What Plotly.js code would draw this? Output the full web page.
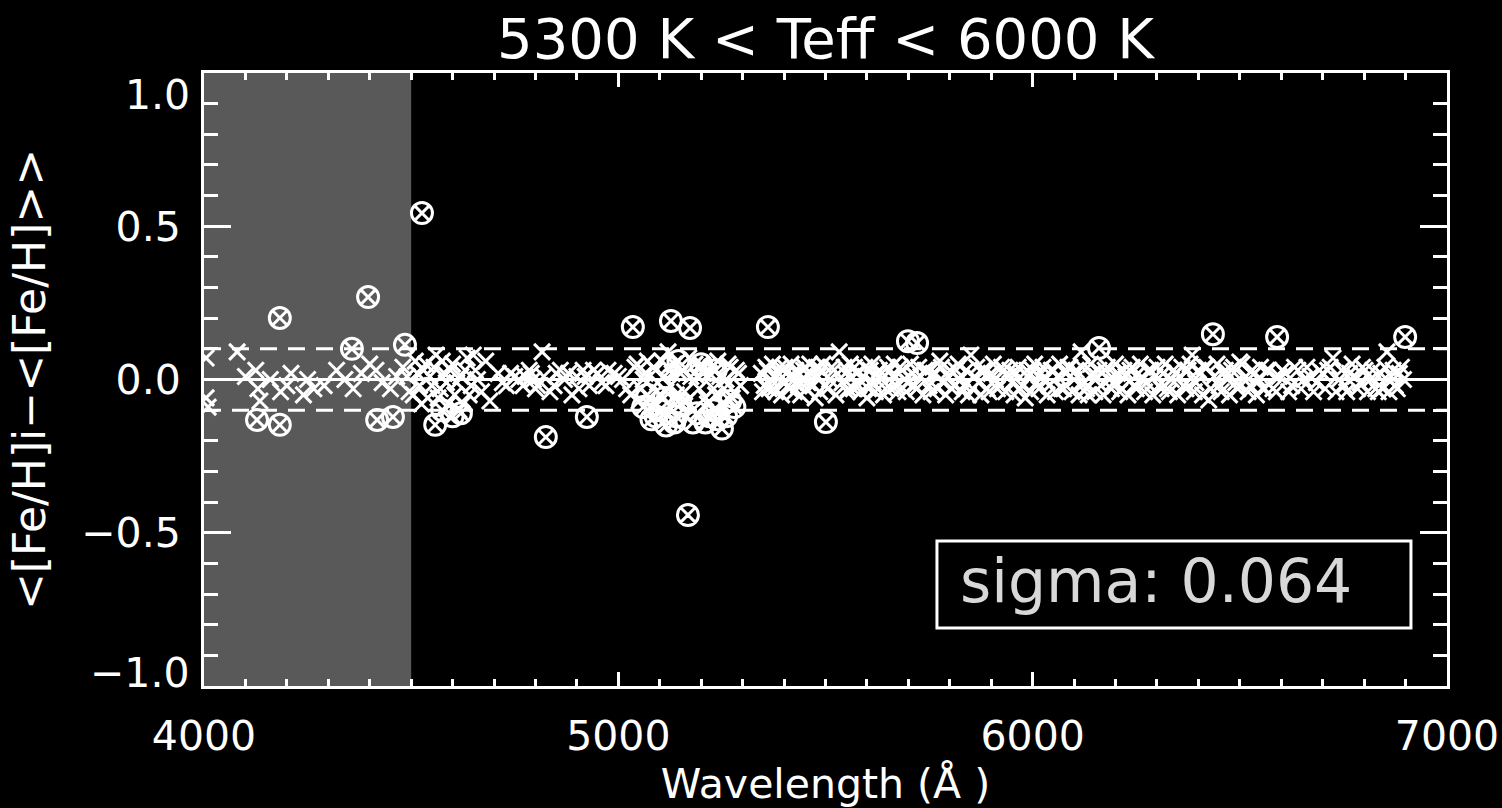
<!DOCTYPE html>
<html>
<head>
<meta charset="utf-8">
<script src="https://cdn.plot.ly/plotly-3.0.1.min.js"></script>
<style>html,body{margin:0;padding:0;background:#000;}#chart{width:1502px;height:808px;}</style>
</head>
<body>
<div id="chart"></div>
<script>
// ---- data ----
const titleText = "5300 K &lt; Teff &lt; 6000 K";
const xTitle = "Wavelength (Å )";
const yTitle = "&lt;[Fe/H]i−&lt;[Fe/H]&gt;&gt;";
const xRange = [4000, 7000];
const yRange = [-1, 1];
const xTickVals = [4000, 5000, 6000, 7000];
const xTickText = ["4000", "5000", "6000", "7000"];
const yTickVals = [-1, -0.5, 0, 0.5, 1];
const yTickText = ["−1.0", "−0.5", "0.0", "0.5", "1.0"];
const shadedBand = [4000, 4500];
const meanLine = 0;
const limitLines = [0.1, -0.1];
const sigmaLabel = "sigma: 0.064";
const sigmaBox = {x: [5769, 6913], y: [-0.527, -0.811]};

// lines kept in the mean (x markers)
const keptWave = [
 4005,4005,4010,4080,4100,4125,4130,4135,4160,4185,4200,4210,4240,4250,4265,4290,4320,4340,4360,4380,4400,4415,4430,4450,4465,4480,4490,4495,
 4510,4520,4530,4540,4545,4560,4570,4580,4590,4600,4610,4615,4630,4640,4650,4660,4680,4690,4720,4740,4760,4775,4790,4800,4816,4820,4835,4850,4870,4888,4900,4915,4930,4950,4960,4975,5000,5020,5040,5050,5060,5070,5080,5090,5100,5110,5120,5125,5135,5145,5150,5160,5170,5180,5190,5200,5210,5220,5230,5240,5250,5260,5270,5280,5290,
 4505,4515,4525,4535,4550,4555,4565,4575,4585,4595,4605,4620,4625,4635,4645,4655,4670,4710,4730,4750,4770,4785,4795,4805,4845,4860,4880,4905,4920,4940,4970,4990,5010,5030,5045,5055,5065,5075,5085,5095,5105,5115,5130,5140,5155,5165,5175,5185,5195,5205,5215,5225,5235,5245,5255,5265,5275,5285,5295,
 5345,5352,5360,5368,5375,5383,5390,5398,5405,5413,5420,5428,5435,5443,5450,5458,5465,5475,5482,5490,5500,5510,5520,5533,5540,5548,5555,5563,5570,5580,5590,5600,5608,5615,5625,5635,5645,5655,5662,5670,5680,5690,5700,5710,5720,5730,5740,5750,5760,5776,5785,5795,5805,5815,5825,5835,5851,5860,5870,5880,5890,5900,5910,5920,5930,5940,5950,5960,5970,5982,5990,6000,6010,6020,6030,6040,6050,6060,6070,6080,6090,6100,6117,6125,6134,6145,6155,6165,6175,6185,6195,6205,6215,6225,6235,6245,6255,6265,6275,6285,6295,6305,6315,6325,6335,6345,6355,6365,6375,6385,6394,6405,6415,6425,6438,6450,6460,6470,6480,6490,6500,6515,6525,6535,6545,6555,6565,6580,6595,6610,6625,6640,6655,6670,6685,6700,6712,6725,6740,6752,6765,6778,6790,6802,6815,6828,6840,6845,6855,6865,6875,6885,6895,
 5348,5356,5364,5372,5380,5387,5394,5402,5410,5417,5425,5432,5440,5447,5455,5462,5470,5478,5486,5494,5505,5515,5525,5545,5552,5560,5567,5575,5585,5595,5604,5612,5620,5630,5640,5650,5658,5666,5675,5685,5695,5705,5715,5725,5735,5745,5755,5765,5770,5780,5790,5800,5810,5820,5830,5840,5845,5855,5865,5875,5885,5895,5905,5915,5925,5935,5945,5955,5965,5975,5986,5995,6005,6015,6025,6035,6045,6055,6065,6075,6085,6095,6105,6112,6120,6130,6140,6150,6160,6170,6180,6190,6200,6210,6220,6230,6240,6250,6260,6270,6280,6290,6300,6310,6320,6330,6340,6350,6360,6370,6380,6390,6400,6410,6420,6430,6445,6455,6465,6475,6485,6495,6505,6520,6530,6540,6550,6560,6570,6588,6602,6618,6632,6648,6662,6678,6692,6706,6718,6732,6746,6758,6771,6784,6796,6808,6821,6834,6850,6860,6870,6880,6890
];
const keptDelta = [
 0.07,-0.06,-0.09,0.09,0.01,0.03,-0.03,-0.07,0.00,-0.04,-0.02,0.02,-0.05,0.00,-0.03,-0.02,0.03,0.00,-0.03,0.02,0.05,0.03,-0.01,-0.03,0.01,0.04,0.01,-0.04,
 0.06,-0.02,0.03,-0.06,0.01,0.08,-0.03,0.02,-0.08,0.05,-0.01,-0.10,0.03,-0.05,0.08,0.00,0.06,-0.07,-0.01,0.02,0.00,0.01,0.02,-0.03,0.09,0.01,-0.04,0.02,0.00,-0.05,0.01,0.03,-0.02,0.02,-0.01,0.03,0.01,-0.03,0.04,-0.07,0.00,0.06,-0.09,0.03,-0.05,0.01,0.09,-0.02,0.05,-0.07,0.02,-0.04,0.07,-0.10,0.01,0.04,-0.06,0.02,-0.03,0.06,-0.08,0.00,0.04,-0.04,0.02,
 -0.05,0.02,-0.08,0.05,-0.02,0.04,-0.06,0.06,-0.01,0.03,-0.05,0.01,-0.08,0.07,-0.02,0.03,-0.04,0.02,-0.02,0.01,-0.02,0.03,0.00,-0.02,-0.02,0.03,0.02,-0.03,0.01,0.03,-0.02,0.02,0.00,-0.05,0.05,-0.03,0.02,-0.06,0.04,-0.01,0.06,-0.04,0.02,-0.05,0.03,-0.07,0.01,0.05,-0.03,0.02,-0.08,0.04,-0.05,0.01,-0.03,0.05,-0.06,0.03,-0.02,
 0.02,-0.02,0.03,0.00,-0.03,0.01,0.04,-0.01,0.02,-0.03,0.01,0.03,-0.02,0.00,0.04,-0.01,0.02,-0.06,0.01,0.03,-0.02,0.00,0.03,0.09,-0.01,0.02,-0.03,0.01,0.04,-0.02,0.01,-0.06,0.03,-0.01,0.02,0.00,-0.03,0.03,0.01,-0.02,0.04,0.00,-0.01,0.02,-0.03,0.01,0.03,-0.02,0.02,0.06,-0.01,0.01,-0.03,0.03,0.00,-0.02,0.08,0.01,-0.01,0.03,-0.03,0.02,0.00,-0.02,0.03,0.01,-0.01,0.02,-0.03,-0.06,0.01,0.03,-0.01,0.02,0.00,-0.02,0.03,0.01,-0.03,0.02,0.04,0.00,0.09,-0.01,-0.05,0.02,0.01,-0.02,0.03,0.00,-0.01,0.02,-0.03,0.01,0.03,-0.02,0.02,0.00,-0.01,0.03,0.01,-0.02,0.02,-0.03,0.00,0.02,0.01,-0.02,0.03,0.08,-0.01,0.02,0.04,-0.067,0.01,-0.02,0.02,0.00,0.03,-0.01,0.057,0.01,-0.02,0.02,0.00,-0.03,0.03,-0.03,0.01,0.02,-0.02,0.03,0.00,0.01,-0.01,0.02,0.03,0.07,0.00,-0.02,0.02,0.01,-0.01,0.03,0.00,-0.03,0.02,-0.03,0.09,0.01,-0.02,0.02,0.00,
 -0.04,0.04,-0.03,0.05,-0.04,0.02,-0.05,0.04,-0.02,0.05,-0.04,0.02,-0.05,0.03,-0.03,0.05,-0.02,0.04,-0.04,0.05,-0.03,0.04,-0.05,0.04,-0.04,0.05,-0.03,0.02,-0.04,0.04,-0.03,0.05,-0.04,0.03,-0.05,0.04,-0.03,0.05,-0.04,0.03,-0.04,0.05,-0.02,0.04,-0.05,0.03,-0.04,0.02,-0.03,0.04,-0.05,0.03,-0.02,0.05,-0.04,0.03,-0.05,-0.03,0.04,-0.05,0.03,-0.04,0.05,-0.03,0.04,-0.04,0.03,-0.05,0.04,-0.02,0.03,-0.04,0.05,-0.03,0.04,-0.05,0.03,-0.04,0.05,-0.03,0.04,-0.04,0.03,-0.05,0.04,-0.03,0.05,-0.04,0.03,-0.05,0.04,-0.03,0.05,-0.04,0.03,-0.05,0.04,-0.03,0.05,-0.04,0.03,-0.05,0.04,-0.03,0.05,-0.04,0.03,-0.05,0.04,-0.03,0.05,-0.04,0.03,-0.05,0.04,-0.03,0.05,-0.04,0.03,-0.05,0.04,-0.03,0.05,-0.04,0.03,-0.05,0.04,-0.03,0.03,-0.04,0.03,-0.04,0.04,-0.03,0.04,-0.04,0.03,-0.03,0.04,-0.04,0.03,-0.04,0.05,-0.03,0.04,-0.04,0.03,-0.04,0.04,-0.04,0.03,-0.03,0.04
];

// rejected lines (circled x markers)
const rejWave = [
 4526,4396,4183,4357,4485,4128,4183,4418,4456,4558,4600,4575,4620,
 5035,5127,5173,5361,4825,4924,5168,5501,5699,5721,6160,6435,6590,6899,
 5080,5100,5115,5140,5150,5190,5210,5230,5250,5260,5280,5070,5120,5200,5060,5090,5110,5135,5180,5220,5240,5270,5145,5235
];
const rejDelta = [
 0.543,0.269,0.201,0.100,0.113,-0.132,-0.148,-0.132,-0.122,-0.148,-0.12,-0.10,-0.11,
 0.171,0.191,0.168,0.171,-0.188,-0.122,-0.442,-0.139,0.125,0.119,0.103,0.148,0.139,0.139,
 -0.13,-0.10,-0.15,-0.12,-0.08,-0.11,-0.14,-0.10,-0.16,-0.12,-0.09,-0.05,0.04,0.05,-0.09,-0.12,-0.06,-0.14,-0.14,-0.12,-0.13,-0.07,0.06,0.03
];

const FONT = "DejaVu Sans, sans-serif";
const W = "#ffffff";

const traces = [
 {x: keptWave, y: keptDelta, type: "scatter", mode: "markers", hoverinfo: "skip",
  marker: {symbol: "x-thin-open", size: 16, color: W, line: {color: W, width: 3}}},
 {x: rejWave, y: rejDelta, type: "scatter", mode: "markers", hoverinfo: "skip",
  marker: {symbol: "circle-x-open", size: 21, color: W, line: {color: W, width: 3}}}
];

const shapes = [
 {type: "rect", xref: "x", yref: "y", x0: shadedBand[0], x1: shadedBand[1], y0: yRange[0], y1: yRange[1],
  fillcolor: "#595959", line: {width: 0}, layer: "below"},
 {type: "line", xref: "x", yref: "y", x0: xRange[0], x1: xRange[1], y0: meanLine, y1: meanLine,
  line: {color: W, width: 3}, layer: "above"}
];
limitLines.forEach(v => shapes.push({type: "line", xref: "x", yref: "y", x0: xRange[0], x1: xRange[1], y0: v, y1: v,
  line: {color: W, width: 3, dash: "17px,11px"}, layer: "above"}));
shapes.push({type: "rect", xref: "x", yref: "y", x0: sigmaBox.x[0], x1: sigmaBox.x[1], y0: sigmaBox.y[0], y1: sigmaBox.y[1],
  line: {color: W, width: 3}, fillcolor: "rgba(0,0,0,0)", layer: "above"});

const annotations = [
 {xref: "x", yref: "y", x: (sigmaBox.x[0] + sigmaBox.x[1]) / 2, y: (sigmaBox.y[0] + sigmaBox.y[1]) / 2,
  text: sigmaLabel, showarrow: false, font: {family: FONT, size: 60, color: "#d8d8d8"}, xanchor: "center", yanchor: "middle", xshift: -18, yshift: 4},
 {xref: "paper", yref: "y", x: 0, y: yTickVals[4], text: yTickText[4], showarrow: false, xanchor: "right", yanchor: "middle",
  xshift: -12, yshift: -22, font: {family: FONT, size: 41, color: W}},
 {xref: "paper", yref: "y", x: 0, y: yTickVals[0], text: yTickText[0], showarrow: false, xanchor: "right", yanchor: "middle",
  xshift: -12, yshift: 13, font: {family: FONT, size: 41, color: W}}
];

const axisCommon = {
 showline: true, linecolor: W, linewidth: 3, mirror: "allticks", ticks: "inside", tickcolor: W, tickwidth: 3,
 showgrid: false, zeroline: false, tickfont: {family: FONT, size: 41, color: W}
};

const layout = {
 width: 1502, height: 808,
 paper_bgcolor: "#000", plot_bgcolor: "#000",
 margin: {l: 204, r: 55, t: 73, b: 122},
 showlegend: false,
 title: {text: titleText, font: {family: FONT, size: 56, color: W}, xref: "paper", x: 0.5, xanchor: "center",
  yref: "container", y: 1 - 38 / 808, yanchor: "middle"},
 xaxis: Object.assign({}, axisCommon, {
  range: xRange, tickmode: "array", tickvals: xTickVals, ticktext: xTickText, ticklen: 14,
  ticklabelstandoff: 12,
  minor: {dtick: 100, tick0: 4000, ticks: "inside", ticklen: 7, tickwidth: 3, tickcolor: W},
  title: {text: xTitle, font: {family: FONT, size: 41, color: W}, standoff: 8}
 }),
 yaxis: Object.assign({}, axisCommon, {
  range: yRange, tickmode: "array", tickvals: yTickVals, ticktext: ["", yTickText[1], yTickText[2], yTickText[3], ""], ticklen: 27,
  ticklabelstandoff: 12,
  minor: {dtick: 0.1, tick0: 0, ticks: "inside", ticklen: 14, tickwidth: 3, tickcolor: W},
  title: {text: yTitle, font: {family: FONT, size: 44, color: W}, standoff: 22}
 }),
 shapes: shapes,
 annotations: annotations
};

Plotly.newPlot("chart", traces, layout, {staticPlot: true, displayModeBar: false});
</script>
</body>
</html>
